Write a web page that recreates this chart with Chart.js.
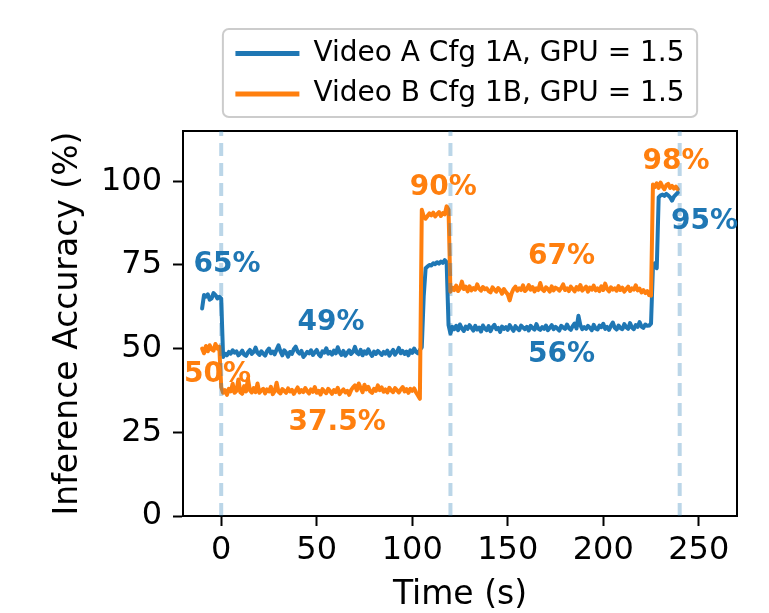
<!DOCTYPE html>
<html>
<head>
<meta charset="utf-8">
<title>Inference accuracy over time</title>
<script src="https://cdn.jsdelivr.net/npm/chart.js@4.4.1/dist/chart.umd.min.js"></script>
<style>
  html, body { margin: 0; padding: 0; background: #ffffff; }
  #wrap { width: 769px; height: 613px; }
</style>
</head>
<body>
<div id="wrap"><canvas id="chart" width="769" height="613"></canvas></div>
<script>
// ---- data -------------------------------------------------------------
const seriesNames = ['Video A Cfg 1A, GPU = 1.5', 'Video B Cfg 1B, GPU = 1.5'];

// samples are taken once per second, starting at t = -10 s
const startTime = -10;
const sampleStep = 1;

// accuracy (%) of Video A, one value per sample
const videoA = [
  // -10 .. 0
  62.0, 66.0, 65.5, 66.2, 64.6, 65.0, 66.6, 66.0, 65.0, 65.5, 65.0,
  // 1 .. 105
  47.5, 48.5, 48.0, 49.0, 48.5, 49.5, 48.8, 49.2, 48.0, 48.6,
  49.4, 48.2, 47.8, 48.9, 49.6, 48.4, 49.0, 50.3, 48.7, 48.1,
  49.2, 48.5, 47.9, 49.3, 50.0, 48.6, 49.1, 48.3, 49.7, 51.0,
  49.2, 48.0, 49.5, 48.8, 47.6, 49.0, 48.4, 49.8, 50.6, 49.1,
  48.5, 49.3, 47.5, 48.2, 49.0, 48.6, 49.5, 48.1, 48.9, 49.6,
  48.3, 47.7, 49.2, 48.8, 50.1, 48.5, 49.0, 48.2, 49.4, 48.6,
  50.4, 48.9, 48.1, 49.3, 47.9, 48.7, 49.5, 48.4, 49.0, 50.5,
  48.8, 48.3, 49.6, 48.0, 49.2, 48.5, 49.8, 48.6, 47.8, 49.1,
  48.4, 49.3, 48.7, 48.1, 49.0, 48.5, 49.4, 47.9, 48.8, 49.6,
  48.2, 49.0, 50.2, 48.6, 49.3, 48.4, 49.1, 48.0, 49.5, 48.7,
  50.0, 49.0, 48.6, 49.6, 50.4,
  // 106 .. 118
  65.5, 74.0, 74.5, 75.0, 74.8, 75.5, 75.2, 75.8, 75.4, 76.0, 75.6, 76.4, 75.8,
  // 119
  57.0,
  // 120 .. 225
  54.5, 56.5, 55.8, 56.8, 55.5, 57.2, 56.0, 55.3, 56.6, 55.9,
  57.0, 56.2, 55.4, 56.8, 55.7, 56.3, 55.1, 56.9, 56.0, 55.5,
  56.7, 55.2, 56.4, 57.1, 55.8, 56.2, 55.0, 56.6, 55.9, 56.4,
  55.6, 57.0, 56.1, 55.3, 56.7, 56.0, 55.5, 56.9, 56.3, 55.8,
  56.5, 55.4, 56.8, 56.1, 55.7, 57.3, 56.0, 55.6, 56.4, 55.9,
  56.9, 55.5, 56.2, 57.0, 55.8, 56.5, 56.0, 55.4, 56.8, 56.3,
  55.9, 57.2, 56.1, 55.6, 56.7, 57.5, 56.0, 59.8, 57.0, 55.8,
  56.4, 55.9, 56.8, 56.2, 55.5, 57.1, 56.0, 55.7, 56.9, 56.4,
  57.4, 55.9, 56.5, 55.6, 56.8, 57.8, 56.2, 55.7, 56.9, 56.1,
  55.8, 57.3, 56.4, 55.9, 57.6, 56.3, 55.8, 57.0, 56.5, 57.9,
  56.6, 56.2, 57.2, 56.8, 56.9, 57.5,
  // 226 .. 239
  74.5, 75.5, 74.0, 95.2, 95.8, 96.0, 95.6, 96.2, 95.8, 95.2, 94.2, 95.4, 96.0, 96.6
];

// accuracy (%) of Video B, one value per sample
const videoB = [
  // -10 .. -1
  50.0, 48.6, 50.8, 49.2, 51.0, 49.8, 49.4, 51.4, 50.0, 50.6,
  // 0 .. 104
  38.5, 36.8, 37.6, 36.2, 38.0, 37.2, 39.5, 36.8, 37.4, 40.8,
  37.0, 36.5, 38.8, 37.2, 41.0, 37.6, 36.9, 38.2, 37.0, 39.6,
  36.8, 37.5, 38.0, 36.6, 37.8, 37.2, 38.6, 36.4, 37.3, 39.8,
  37.1, 36.6, 37.9, 37.4, 36.8, 38.1, 37.2, 37.7, 36.5, 37.4,
  38.4, 36.9, 37.6, 37.0, 38.2, 37.3, 36.6, 37.8, 37.1, 38.5,
  36.8, 37.4, 36.3, 37.9, 37.2, 36.7, 38.0, 37.3, 36.5, 37.6,
  37.0, 38.3, 36.4, 37.2, 37.8, 36.9, 37.4, 36.2, 37.6, 38.4,
  39.0, 37.5, 39.6, 38.2, 37.0, 39.2, 37.8, 38.6, 37.2, 36.8,
  38.0, 37.4, 39.0, 37.6, 38.4, 37.1, 37.8, 36.9, 38.3, 37.5,
  37.0, 38.2, 37.6, 36.9, 37.8, 38.5, 37.2, 37.9, 36.8, 38.0,
  37.4, 38.1, 36.9, 36.0, 35.0,
  // 105 .. 118
  91.5, 89.5, 88.8, 89.6, 90.4, 89.8, 90.6, 89.5, 90.2, 90.8, 89.6, 90.5, 90.1, 92.5,
  // 119
  91.5,
  // 120 .. 225
  67.0, 68.2, 67.5, 68.8, 67.2, 68.0, 70.0, 67.8, 68.5, 67.1,
  68.6, 67.4, 68.1, 67.6, 69.2, 67.9, 67.3, 68.4, 67.7, 68.0,
  67.2, 66.8, 68.3, 67.6, 67.0, 68.1, 67.5, 66.4, 67.8, 66.9,
  66.2, 64.4, 66.5, 67.8, 68.5, 67.3, 68.0, 67.5, 68.9, 67.2,
  67.8, 69.0, 67.6, 68.4, 67.1, 68.0, 67.5, 69.6, 67.7, 67.2,
  68.3, 67.8, 67.0, 68.6, 67.4, 68.2, 67.9, 67.3, 68.1, 69.2,
  67.5, 68.0, 67.2, 68.5, 67.8, 67.1, 68.4, 67.6, 69.0, 67.3,
  67.9, 68.5, 67.0, 68.2, 67.6, 68.8, 67.4, 68.0, 67.2, 68.6,
  67.5, 69.4, 67.8, 67.1, 68.3, 67.6, 68.0, 67.3, 68.7, 67.5,
  68.2, 67.0, 67.8, 68.5, 67.2, 68.0, 67.6, 68.9, 67.4, 67.9,
  66.8, 67.5, 66.6, 67.2, 66.0, 65.8,
  // 226 .. 239
  99.0, 98.2, 99.4, 98.0, 99.6, 98.4, 97.6, 98.8, 99.2, 98.0, 98.6, 97.8, 98.4, 97.6
];

// moments (s) where the configuration is switched
const switchTimes = [0, 120, 240];

// axis ticks
const xTickValues = [0, 50, 100, 150, 200, 250];
const yTickValues = [0, 25, 50, 75, 100];

// plateau value notes: text, anchor time (s), anchor accuracy (%), series index
const noteText   = ['65%', '49%', '50%', '37.5%', '90%', '67%', '56%', '98%', '95%'];
const noteTime   = [3.0, 57.5, -1.9, 60.7, 116.2, 178.1, 178.1, 238.1, 253.0];
const noteValue  = [75.0, 57.8, 42.1, 27.9, 98.1, 77.4, 48.1, 105.8, 87.9];
const noteSeries = [0, 0, 1, 1, 1, 1, 0, 1, 0];

// ---- styling ------------------------------------------------------------
const seriesColors = ['#1f77b4', '#ff7f0e'];
const switchColor = 'rgba(31, 119, 180, 0.3)';
const FONT = '"DejaVu Sans", "Liberation Sans", sans-serif';

Chart.defaults.font.family = FONT;
Chart.defaults.color = '#000000';

const toPoints = values => values.map((v, i) => ({ x: startTime + i * sampleStep, y: v }));

const X_MIN = -20, X_MAX = 270, Y_MIN = 0, Y_MAX = 115;

const seriesDatasets = [videoA, videoB].map((values, k) => ({
  label: seriesNames[k],
  data: toPoints(values),
  borderColor: seriesColors[k],
  backgroundColor: seriesColors[k],
  borderWidth: 4,
  borderJoinStyle: 'round',
  borderCapStyle: 'round',
  pointRadius: 0,
  tension: 0,
  order: 2 - k
}));

const switchDatasets = switchTimes.map(t => ({
  label: 'switch ' + t,
  data: [{ x: t, y: Y_MIN }, { x: t, y: Y_MAX }],
  borderColor: switchColor,
  borderWidth: 4,
  borderDash: [13, 7],
  pointRadius: 0,
  order: 0
}));

// rounded frame behind the legend entries
const legendFrame = {
  id: 'legendFrame',
  beforeDraw(chart) {
    const boxes = chart.legend && chart.legend.legendHitBoxes;
    if (!boxes || !boxes.length) return;
    let l = Infinity, t = Infinity, r = -Infinity, b = -Infinity;
    boxes.forEach(h => {
      l = Math.min(l, h.left); t = Math.min(t, h.top);
      r = Math.max(r, h.left + h.width); b = Math.max(b, h.top + h.height);
    });
    const ctx = chart.ctx;
    ctx.save();
    ctx.beginPath();
    ctx.roundRect(l - 12.5, t - 10.5, (r - l) + 25, (b - t) + 19.5, 6);
    ctx.fillStyle = 'rgba(255,255,255,0.8)';
    ctx.fill();
    ctx.strokeStyle = '#cccccc';
    ctx.lineWidth = 2;
    ctx.stroke();
    ctx.restore();
  }
};

// bold value notes next to each plateau
const valueNotes = {
  id: 'valueNotes',
  afterDatasetsDraw(chart) {
    const { ctx, scales: { x, y } } = chart;
    ctx.save();
    ctx.font = 'bold 28px ' + FONT;
    ctx.textAlign = 'center';
    ctx.textBaseline = 'middle';
    noteText.forEach((txt, i) => {
      ctx.fillStyle = seriesColors[noteSeries[i]];
      ctx.fillText(txt, x.getPixelForValue(noteTime[i]), y.getPixelForValue(noteValue[i]));
    });
    ctx.restore();
  }
};

const tickGrid = {
  display: true, drawOnChartArea: false, drawTicks: true,
  tickLength: 10, tickWidth: 2, tickColor: '#000000'
};
const spine = { display: true, color: '#000000', width: 2 };
const bareGrid = { display: true, drawOnChartArea: false, drawTicks: false };

new Chart(document.getElementById('chart'), {
  type: 'line',
  data: { datasets: [...seriesDatasets, ...switchDatasets] },
  plugins: [legendFrame, valueNotes],
  options: {
    responsive: false,
    animation: false,
    devicePixelRatio: 1,
    layout: { padding: { top: 27, left: 0, right: 0, bottom: 0 } },
    plugins: {
      tooltip: { enabled: false },
      legend: {
        display: true,
        position: 'top',
        align: 'center',
        fullSize: false,
        labels: {
          color: '#000000',
          font: { size: 28, family: FONT },
          boxWidth: 64,
          boxHeight: 5,
          padding: 12.5,
          filter: item => item.datasetIndex < seriesDatasets.length,
          sort: (a, b) => a.datasetIndex - b.datasetIndex,
          generateLabels: chart =>
            Chart.defaults.plugins.legend.labels.generateLabels(chart)
              .map(item => Object.assign(item, { lineWidth: 0, lineDash: [] }))
        }
      }
    },
    scales: {
      x: {
        type: 'linear', position: 'bottom', min: X_MIN, max: X_MAX,
        afterBuildTicks: s => { s.ticks = xTickValues.map(v => ({ value: v })); },
        afterFit: s => { s.height = 97; },
        ticks: { color: '#000000', font: { size: 32, lineHeight: 1 }, padding: 9, maxRotation: 0, autoSkip: false },
        grid: tickGrid,
        border: spine,
        title: { display: true, text: 'Time (s)', color: '#000000', font: { size: 33, lineHeight: 1 }, padding: { top: 0, bottom: 1 } }
      },
      xTop: {
        type: 'linear', position: 'top', min: X_MIN, max: X_MAX,
        afterFit: s => { s.height = 13; },
        ticks: { display: false },
        grid: bareGrid,
        border: spine
      },
      y: {
        type: 'linear', position: 'left', min: Y_MIN, max: Y_MAX,
        afterBuildTicks: s => { s.ticks = yTickValues.map(v => ({ value: v })); },
        afterFit: s => { s.width = 183; },
        ticks: { color: '#000000', font: { size: 32 }, padding: 11 },
        grid: tickGrid,
        border: spine,
        title: { display: true, text: 'Inference Accuracy (%)', color: '#000000', font: { size: 33, lineHeight: 1 }, padding: { top: 52, bottom: 0 } }
      },
      yRight: {
        type: 'linear', position: 'right', min: Y_MIN, max: Y_MAX,
        afterFit: s => { s.width = 32; },
        ticks: { display: false },
        grid: bareGrid,
        border: spine
      }
    }
  }
});
</script>
</body>
</html>
